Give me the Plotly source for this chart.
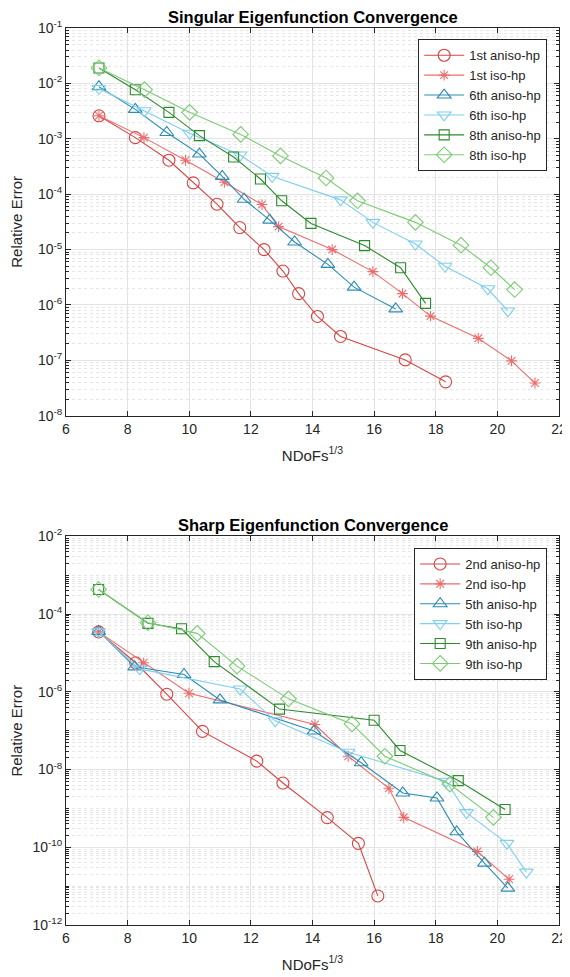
import plotly.graph_objects as go

# ---------------- Data: Singular eigenfunctions (top) ----------------
s1_aniso_x = [7.07, 8.25, 9.34, 10.13, 10.90, 11.64, 12.43, 13.04, 13.55, 14.16, 14.91, 17.01, 18.32]
s1_aniso_y = [2.6e-3, 1.05e-3, 4.1e-4, 1.6e-4, 6.6e-5, 2.5e-5, 1.0e-5, 4.1e-6, 1.6e-6, 6.2e-7, 2.7e-7, 1.02e-7, 4.1e-8]
s1_iso_x = [7.07, 8.53, 9.88, 11.14, 12.36, 12.90, 14.64, 15.96, 16.92, 17.83, 19.38, 20.46, 21.22]
s1_iso_y = [2.6e-3, 1.05e-3, 4.1e-4, 1.64e-4, 6.5e-5, 2.6e-5, 1.0e-5, 4.0e-6, 1.6e-6, 6.3e-7, 2.5e-7, 9.8e-8, 3.9e-8]
s6_aniso_x = [7.07, 8.25, 9.27, 10.33, 11.07, 11.78, 12.61, 13.42, 14.50, 15.35, 16.70]
s6_aniso_y = [8.7e-3, 3.4e-3, 1.3e-3, 5.3e-4, 2.1e-4, 8.1e-5, 3.4e-5, 1.37e-5, 5.4e-6, 2.1e-6, 8.5e-7]
s6_iso_x = [7.07, 8.54, 10.01, 11.65, 12.69, 14.91, 15.96, 17.34, 18.30, 19.69, 20.34]
s6_iso_y = [8.1e-3, 3.2e-3, 1.26e-3, 5.1e-4, 2.1e-4, 7.9e-5, 3.1e-5, 1.26e-5, 5.0e-6, 1.96e-6, 7.8e-7]
s8_aniso_x = [7.07, 8.25, 9.34, 10.33, 11.44, 12.31, 13.00, 13.95, 15.69, 16.86, 17.67]
s8_aniso_y = [1.9e-2, 7.7e-3, 3.0e-3, 1.14e-3, 4.7e-4, 1.88e-4, 7.6e-5, 2.97e-5, 1.18e-5, 4.7e-6, 1.07e-6]
s8_iso_x = [7.07, 8.55, 10.01, 11.67, 12.96, 14.44, 15.46, 17.34, 18.82, 19.79, 20.56]
s8_iso_y = [1.9e-2, 7.7e-3, 3.0e-3, 1.2e-3, 4.9e-4, 1.96e-4, 7.6e-5, 3.1e-5, 1.2e-5, 4.7e-6, 1.9e-6]

# ---------------- Data: Sharp eigenfunctions (bottom) ----------------
p2_aniso_x = [7.06, 8.26, 9.27, 10.43, 12.19, 13.04, 14.48, 15.49, 16.12]
p2_aniso_y = [3.5e-5, 5.6e-6, 8.7e-7, 9.6e-8, 1.65e-8, 4.5e-9, 5.8e-10, 1.26e-10, 5.6e-12]
p2_iso_x = [7.06, 8.52, 9.99, 14.08, 15.16, 16.48, 16.96, 19.35, 20.38]
p2_iso_y = [3.5e-5, 5.6e-6, 9.2e-7, 1.44e-7, 2.2e-8, 3.3e-9, 5.9e-10, 7.8e-11, 1.5e-11]
p5_aniso_x = [7.06, 8.23, 9.83, 11.00, 14.05, 15.58, 16.93, 18.04, 18.68, 19.58, 20.34]
p5_aniso_y = [3.6e-5, 4.4e-6, 2.8e-6, 6.2e-7, 9.8e-8, 1.5e-8, 2.5e-9, 1.86e-9, 2.5e-10, 3.9e-11, 8.9e-12]
p5_iso_x = [7.06, 8.39, 11.65, 12.79, 15.16, 18.34, 19.00, 20.31, 20.94]
p5_iso_y = [3.5e-5, 3.9e-6, 1.18e-6, 1.8e-7, 2.8e-8, 5.0e-9, 7.8e-10, 1.26e-10, 2.3e-11]
p9_aniso_x = [7.06, 8.66, 9.75, 10.81, 12.93, 16.00, 16.84, 18.73, 20.25]
p9_aniso_y = [4.3e-4, 5.8e-5, 4.2e-5, 6.0e-6, 3.6e-7, 1.86e-7, 3.1e-8, 5.2e-9, 9.4e-10]
p9_iso_x = [7.06, 8.66, 10.26, 11.55, 13.22, 15.28, 16.35, 18.46, 19.87]
p9_iso_y = [4.3e-4, 6.0e-5, 3.2e-5, 4.6e-6, 6.6e-7, 1.5e-7, 2.2e-8, 4.2e-9, 5.9e-10]

top_titles = "Singular Eigenfunction Convergence"
bottom_titles = "Sharp Eigenfunction Convergence"
x_label = "NDoFs<sup>1/3</sup>"
y_label = "Relative Error"
x_ticks = [6, 8, 10, 12, 14, 16, 18, 20, 22]
top_y_exps = [-1, -2, -3, -4, -5, -6, -7, -8]
bot_y_exps = [-2, -4, -6, -8, -10, -12]

RED_A, RED_I = "#D64545", "#EE6C6C"
BLU_A, BLU_I = "#2B8CB4", "#7FCFEE"
GRN_A, GRN_I = "#2E8A2E", "#7CCB74"

FONT = "Liberation Sans, Arial, Helvetica, sans-serif"

fig = go.Figure()

def add(x, y, name, color, symbol, yaxis, legend, size=11):
    fig.add_trace(go.Scatter(
        x=x, y=y, name=name, mode="lines+markers",
        line=dict(color=color, width=1.1),
        marker=dict(symbol=symbol, size=size, color=color, line=dict(color=color, width=1.1)),
        xaxis="x" if yaxis == "y" else "x2", yaxis=yaxis, legend=legend,
    ))

add(s1_aniso_x, s1_aniso_y, "1st aniso-hp", RED_A, "circle-open", "y", "legend", 12)
add(s1_iso_x, s1_iso_y, "1st iso-hp", RED_I, "asterisk-open", "y", "legend", 9)
add(s6_aniso_x, s6_aniso_y, "6th aniso-hp", BLU_A, "triangle-up-open", "y", "legend", 12)
add(s6_iso_x, s6_iso_y, "6th iso-hp", BLU_I, "triangle-down-open", "y", "legend", 12)
add(s8_aniso_x, s8_aniso_y, "8th aniso-hp", GRN_A, "square-open", "y", "legend", 10)
add(s8_iso_x, s8_iso_y, "8th iso-hp", GRN_I, "diamond-open", "y", "legend", 12)

add(p2_aniso_x, p2_aniso_y, "2nd aniso-hp", RED_A, "circle-open", "y2", "legend2", 12)
add(p2_iso_x, p2_iso_y, "2nd iso-hp", RED_I, "asterisk-open", "y2", "legend2", 9)
add(p5_aniso_x, p5_aniso_y, "5th aniso-hp", BLU_A, "triangle-up-open", "y2", "legend2", 12)
add(p5_iso_x, p5_iso_y, "5th iso-hp", BLU_I, "triangle-down-open", "y2", "legend2", 12)
add(p9_aniso_x, p9_aniso_y, "9th aniso-hp", GRN_A, "square-open", "y2", "legend2", 10)
add(p9_iso_x, p9_iso_y, "9th iso-hp", GRN_I, "diamond-open", "y2", "legend2", 12)

def minor_vals(lo, hi, majors):
    vals = []
    for e in range(lo, hi):
        for k in range(1, 10):
            v = k * 10.0 ** e
            if not (k == 1 and e in majors):
                vals.append(v)
    return vals

AX = "#262626"
GRID = "#E3E3E3"
MGRID = "#E6E6E6"

xcommon = dict(range=[6, 22], tickvals=x_ticks, ticks="inside", ticklen=5, tickcolor=AX,
               showline=True, linecolor=AX, linewidth=1, mirror="ticks", automargin=False,
               showgrid=True, gridcolor=GRID, gridwidth=1, zeroline=False,
               tickfont=dict(size=14, color=AX, family=FONT))

ycommon = dict(type="log", ticks="inside", ticklen=5, tickcolor=AX,
               showline=True, linecolor=AX, linewidth=1, mirror="ticks", automargin=False,
               showgrid=True, gridcolor=GRID, gridwidth=1, zeroline=False,
               tickfont=dict(size=14, color=AX, family=FONT))

# The page body adds an 8px offset, so the figure is 8px smaller than the window.
fig.update_layout(
    width=562, height=969,
    paper_bgcolor="white", plot_bgcolor="white",
    margin=dict(l=58, r=11, t=20, b=51.5, autoexpand=False),
    font=dict(family=FONT, color=AX),
    showlegend=True,
    xaxis=dict(**xcommon, domain=[0, 1], anchor="y",
               title=dict(text=x_label, font=dict(size=15, color=AX, family=FONT), standoff=14)),
    xaxis2=dict(**xcommon, domain=[0, 1], anchor="y2",
                title=dict(text=x_label, font=dict(size=15, color=AX, family=FONT), standoff=14)),
    yaxis=dict(**ycommon, domain=[0.5677, 1.0], anchor="x", range=[-8, -1],
               tickvals=[10.0 ** e for e in top_y_exps],
               ticktext=[f"10<sup>{e}</sup>" for e in top_y_exps],
               minor=dict(tickvals=minor_vals(-8, -1, top_y_exps), ticks="inside", ticklen=3,
                          tickcolor=AX, showgrid=True, gridcolor=MGRID, griddash="dot", gridwidth=1),
               title=dict(text=y_label, font=dict(size=15, color=AX, family=FONT), standoff=11)),
    yaxis2=dict(**ycommon, domain=[0.0, 0.4332], anchor="x2", range=[-12, -2],
                tickvals=[10.0 ** e for e in bot_y_exps],
                ticktext=[f"10<sup>{e}</sup>" for e in bot_y_exps],
                minor=dict(tickvals=minor_vals(-12, -2, bot_y_exps), ticks="inside", ticklen=3,
                           tickcolor=AX, showgrid=True, gridcolor=MGRID, griddash="dot", gridwidth=1),
                title=dict(text=y_label, font=dict(size=15, color=AX, family=FONT), standoff=11)),
    legend=dict(x=0.976, y=0.9874, xanchor="right", yanchor="top",
                bgcolor="white", bordercolor=AX, borderwidth=1,
                font=dict(size=13, color=AX, family=FONT), tracegroupgap=0, itemwidth=40),
    legend2=dict(x=0.976, y=0.4203, xanchor="right", yanchor="top",
                 bgcolor="white", bordercolor=AX, borderwidth=1,
                 font=dict(size=13, color=AX, family=FONT), tracegroupgap=0, itemwidth=40),
    annotations=[
        dict(text=f"<b>{top_titles}</b>", x=0.5, y=1.0, xref="paper", yref="paper",
             xanchor="center", yanchor="bottom", yshift=0, showarrow=False,
             font=dict(size=16.5, color="#000000", family=FONT)),
        dict(text=f"<b>{bottom_titles}</b>", x=0.5, y=0.4332, xref="paper", yref="paper",
             xanchor="center", yanchor="bottom", yshift=0, showarrow=False,
             font=dict(size=16.5, color="#000000", family=FONT)),
    ],
)

fig.write_html("out.html")
